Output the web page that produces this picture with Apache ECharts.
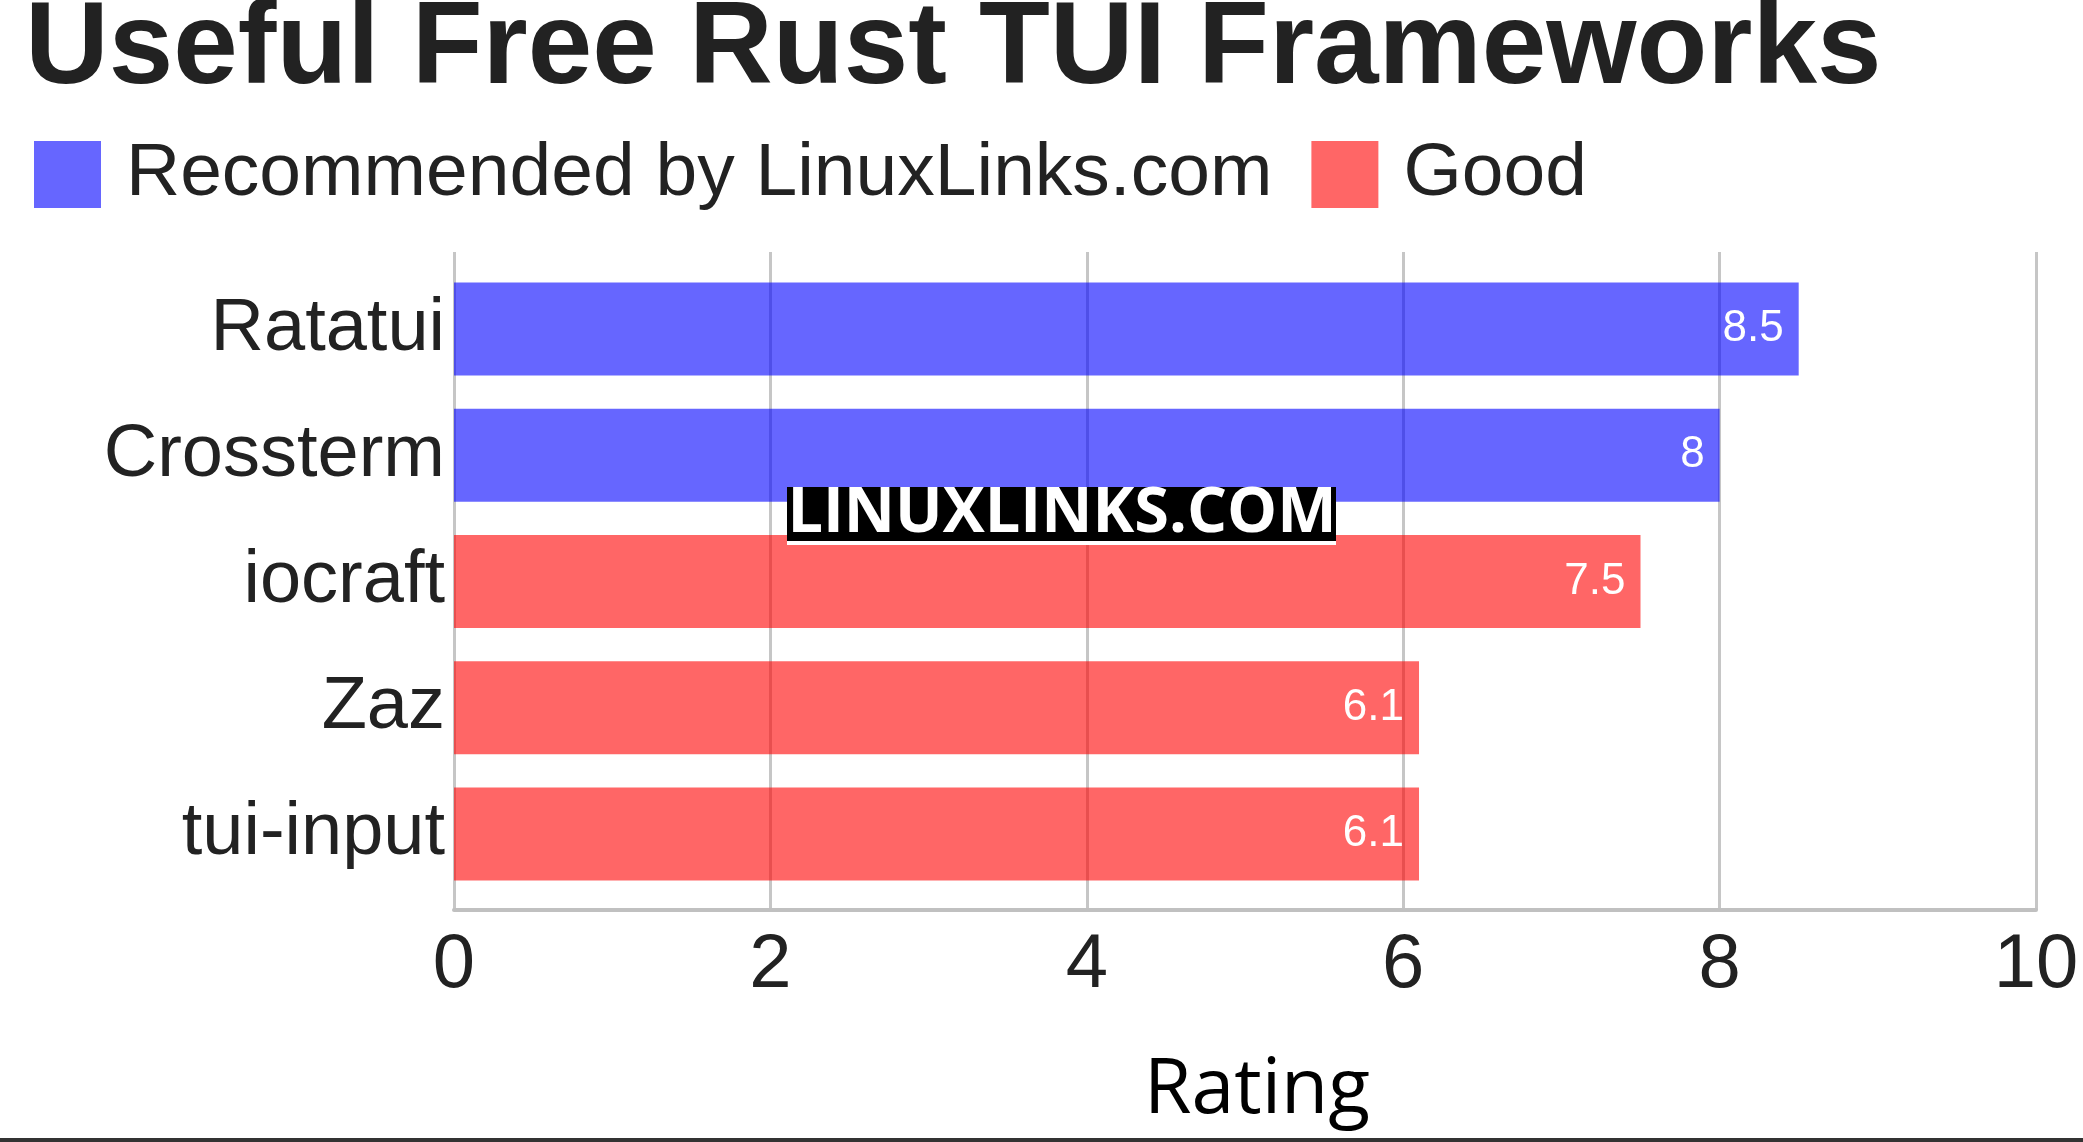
<!DOCTYPE html>
<html><head><meta charset="utf-8">
<script src="https://cdn.jsdelivr.net/npm/echarts@6/dist/echarts.min.js"></script>
<style>html,body{margin:0;padding:0;background:#fff}#c{width:2083px;height:1142px}</style>
</head><body><div id="c"></div>
<script>
const titleText = 'Useful Free Rust TUI Frameworks';
const categories = ['Ratatui', 'Crossterm', 'iocraft', 'Zaz', 'tui-input'];
const recommended = [8.5, 8, '-', '-', '-'];
const good = ['-', '-', 7.5, 6.1, 6.1];
const seriesNames = ['Recommended by LinuxLinks.com', 'Good'];
const axisMin = 0, axisMax = 10, axisStep = 2;
const axisTitle = 'Rating';
const watermark = 'LINUXLINKS.COM';

const FONT = '"Liberation Sans", Arial, sans-serif';
const chart = echarts.init(document.getElementById('c'), null, {renderer: 'canvas'});
const barLabel = {
  show: true, position: 'insideRight', distance: 15, color: '#fff',
  fontSize: 44, fontFamily: FONT, padding: [8, 0, 0, 0]
};
chart.setOption({
  animation: false,
  backgroundColor: '#fff',
  title: {
    text: titleText, left: 20, top: -12,
    textStyle: {fontSize: 116, fontWeight: 'bold', color: '#222', fontFamily: FONT}
  },
  legend: {
    data: seriesNames, left: 29, top: 132, icon: 'rect',
    itemWidth: 67, itemHeight: 67, itemGap: 39,
    textStyle: {fontSize: 75, color: '#222', fontFamily: FONT, padding: [0, 0, 0, 20]}
  },
  grid: [
    {left: 454, right: 47, top: 252, bottom: 232, containLabel: false},
    {left: 454, right: 47, top: 266, bottom: 245, containLabel: false}
  ],
  xAxis: [
    {
      gridIndex: 0, type: 'value', min: axisMin, max: axisMax, interval: axisStep,
      axisLine: {show: true, lineStyle: {color: '#c0c0c0', width: 4}},
      axisTick: {show: false},
      splitLine: {show: true, lineStyle: {color: '#c6c6c6', width: 3}},
      axisLabel: {fontSize: 76, color: '#222', fontFamily: FONT, margin: 18},
      name: axisTitle, nameLocation: 'middle', nameGap: 143,
      nameTextStyle: {fontSize: 77, color: '#000', fontFamily: '"Open Sans", sans-serif', padding: [0, 0, 0, 24]}
    },
    {gridIndex: 1, type: 'value', min: axisMin, max: axisMax, show: false}
  ],
  yAxis: [
    {gridIndex: 0, type: 'category', data: categories, show: false},
    {
      gridIndex: 1, type: 'category', data: categories, inverse: true,
      axisLine: {show: false}, axisTick: {show: false},
      axisLabel: {fontSize: 74, color: '#222', fontFamily: FONT, margin: 9, padding: [12, 0, 0, 0]}
    }
  ],
  series: [
    {
      name: seriesNames[0], type: 'bar', xAxisIndex: 1, yAxisIndex: 1, stack: 'all',
      barWidth: 93, data: recommended,
      itemStyle: {color: 'rgba(0,0,255,0.6)'}, label: barLabel
    },
    {
      name: seriesNames[1], type: 'bar', xAxisIndex: 1, yAxisIndex: 1, stack: 'all',
      barWidth: 93, data: good,
      itemStyle: {color: 'rgba(255,0,0,0.6)'}, label: barLabel
    }
  ],
  graphic: [
    {type: 'rect', shape: {x: 787, y: 487, width: 549, height: 58}, style: {fill: '#fff'}, z: 100},
    {type: 'rect', shape: {x: 787, y: 487, width: 549, height: 54}, style: {fill: '#000'}, z: 101},
    {type: 'text', x: 1062, y: 514, z: 102, style: {
      text: watermark, fill: '#fff', align: 'center', verticalAlign: 'middle',
      font: 'bold 63px "Open Sans", sans-serif'
    }},
    {type: 'rect', shape: {x: 0, y: 1138, width: 2083, height: 4}, style: {fill: '#333'}, z: 100}
  ]
});
</script></body></html>
